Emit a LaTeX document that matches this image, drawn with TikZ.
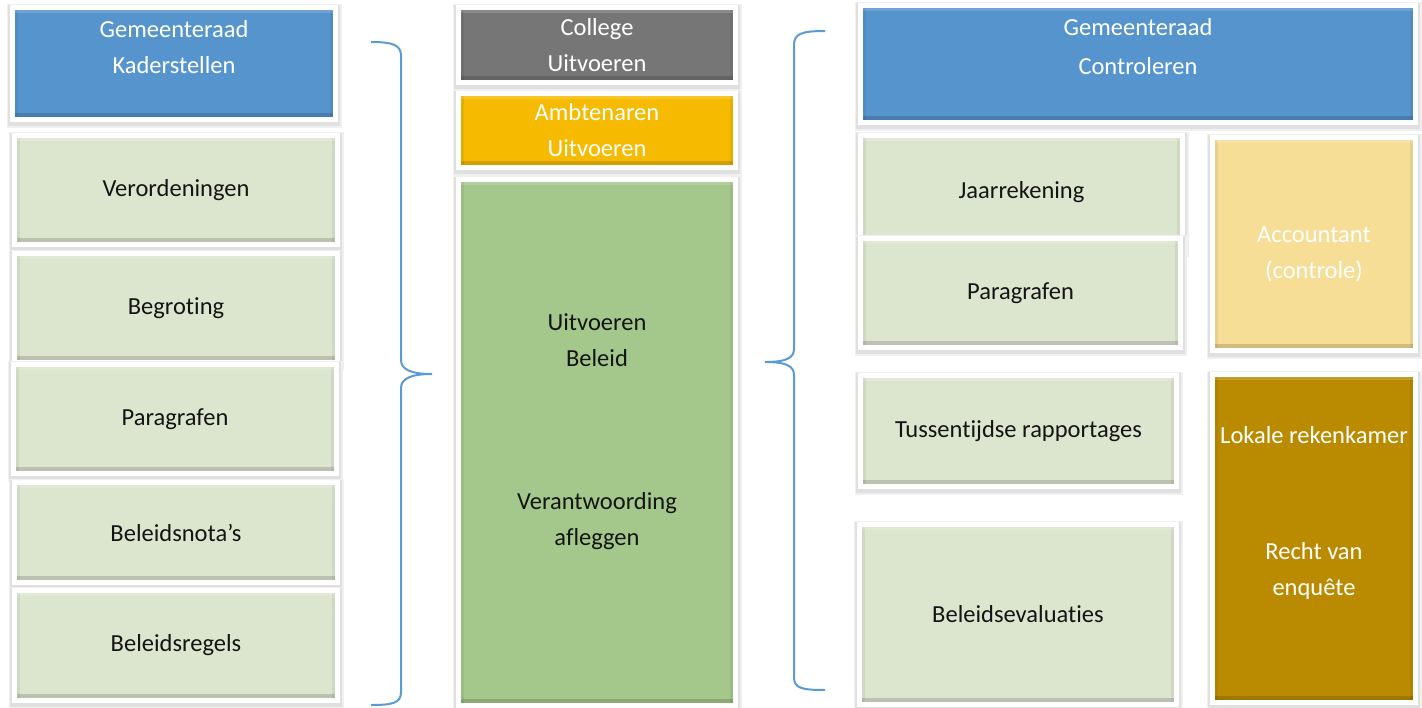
\documentclass[tikz,border=0pt]{standalone}
\usepackage{fontspec}
\setmainfont{Carlito}[Ligatures=NoCommon]
\definecolor{raadblue}{RGB}{86,148,206}
\definecolor{collegegray}{RGB}{118,118,118}
\definecolor{ambtamber}{RGB}{246,187,0}
\definecolor{beleidgreen}{RGB}{164,200,139}
\definecolor{palegreen}{RGB}{220,230,207}
\definecolor{paleyellow}{RGB}{246,222,150}
\definecolor{kamergold}{RGB}{186,139,0}
\definecolor{braceblue}{RGB}{91,155,213}
\definecolor{inkdark}{RGB}{20,20,20}
\tikzstyle{tile}=[rectangle, draw=white, line width=5pt, inner sep=0pt, align=center, text=inkdark,
  font=\fontsize{24.5}{36}\selectfont,
  preaction={draw=black!6, line width=12pt, transform canvas={yshift=-2pt}},
  preaction={draw=black!12, line width=9pt, transform canvas={yshift=-1.5pt}},
  path picture={
    \fill[black, opacity=0.15] (path picture bounding box.south west) rectangle ([yshift=6.5pt]path picture bounding box.south east);
    \fill[black, opacity=0.06] (path picture bounding box.south east) rectangle ([xshift=-5.5pt]path picture bounding box.north east);
    \fill[black, opacity=0.06] (path picture bounding box.south west) rectangle ([xshift=5.5pt]path picture bounding box.north west);
    \fill[white, opacity=0.15] (path picture bounding box.north west) rectangle ([yshift=-5pt]path picture bounding box.north east);}]
\tikzstyle{caption}=[align=center, inner sep=0pt, text=white, font=\fontsize{24.5}{36}\selectfont]
\tikzstyle{brace}=[draw=braceblue, line width=2pt]

\begin{document}
\begin{tikzpicture}[x=1pt, y=-1pt]
\useasboundingbox (0,0) rectangle (1422,707);
% Kaderstellen
    \node[tile, fill=raadblue, minimum width=323, minimum height=112] (kader) at (174,63.5) {};
    \node[caption] (kaderText) at (174,47) {Gemeenteraad\\Kaderstellen};
    \node[tile, fill=palegreen, minimum width=323, minimum height=109] (verord) at (176,190) {Verordeningen};
    \node[tile, fill=palegreen, minimum width=323, minimum height=109] (begroting) at (176,308) {Begroting};
    \node[tile, fill=palegreen, minimum width=323, minimum height=109] (paragrafenL) at (175,419) {Paragrafen};
    \node[tile, fill=palegreen, minimum width=323, minimum height=100] (nota) at (176,532.5) {Beleidsnota’s};
    \node[tile, fill=palegreen, minimum width=323, minimum height=110] (regels) at (176,645.5) {Beleidsregels};
% Brace left
    \draw[brace] (371,42) .. controls (393,42) and (401,45) .. (401,56) -- (401,360)
        .. controls (401,369) and (410,374) .. (432,374)
        .. controls (410,374) and (401,379) .. (401,388) -- (401,692)
        .. controls (401,703) and (393,705) .. (371,705);
% Uitvoeren
    \node[tile, fill=collegegray, text=white, minimum width=277, minimum height=75] (college) at (597,45) {College\\Uitvoeren};
    \node[tile, fill=ambtamber, text=white, minimum width=277, minimum height=74] (ambt) at (597,130.5) {Ambtenaren\\Uitvoeren};
    \node[tile, fill=beleidgreen, minimum width=277, minimum height=526] (beleid) at (597,442.5) {};
    \node[caption, text=inkdark] (beleidText) at (597,340.5) {Uitvoeren\\Beleid};
    \node[caption, text=inkdark] (verantText) at (597,521.5) {Verantwoording\\afleggen};
% Brace right
    \draw[brace] (825,31) .. controls (801,31) and (794,34) .. (794,45) -- (794,349)
        .. controls (794,358) and (786,362) .. (765,362)
        .. controls (786,362) and (794,366) .. (794,375) -- (794,677)
        .. controls (794,688) and (801,690) .. (825,690);
% Controleren
    \node[tile, fill=raadblue, minimum width=555, minimum height=117] (controle) at (1138,64) {};
    \node[caption, font=\fontsize{24.5}{39}\selectfont] (controleText) at (1138,46.5) {Gemeenteraad\\Controleren};
    \node[tile, fill=palegreen, minimum width=322, minimum height=113] (jaar) at (1021.5,192) {Jaarrekening};
    \node[tile, fill=palegreen, minimum width=320, minimum height=109] (paragrafenR) at (1020.5,293) {Paragrafen};
    \node[tile, fill=paleyellow, minimum width=203, minimum height=213] (accountant) at (1314,244) {};
    \node[caption] (accountantText) at (1314,254.5) {Accountant\\(controle)};
    \node[tile, fill=palegreen, minimum width=316, minimum height=111] (tussen) at (1018.5,431) {Tussentijdse rapportages};
    \node[tile, fill=palegreen, minimum width=317, minimum height=180] (evaluatie) at (1018,614.5) {Beleidsevaluaties};
    \node[tile, fill=kamergold, minimum width=203, minimum height=328] (kamer) at (1314,538.5) {};
    \node[caption] (kamerText) at (1314,435) {Lokale rekenkamer};
    \node[caption] (enqueteText) at (1314,570.5) {Recht van\\enquête};
\end{tikzpicture}
\end{document}
